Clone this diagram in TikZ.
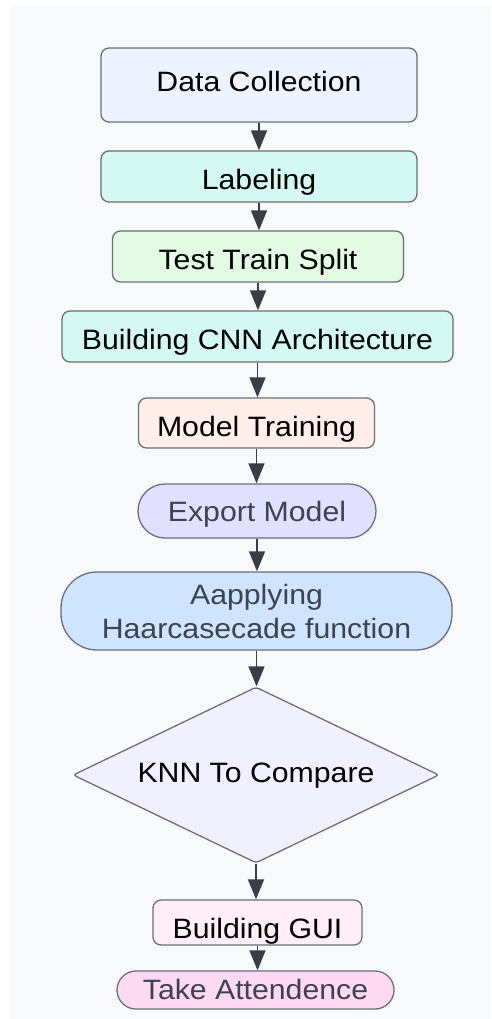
\documentclass[tikz,border=0pt]{standalone}
\usepackage{fontspec}
\setmainfont{Liberation Sans}[FakeStretch=1.08]
\usetikzlibrary{shapes.geometric,arrows.meta}

\definecolor{pagebg}{HTML}{F8F9FB}
\definecolor{edge}{HTML}{6A6F78}
\definecolor{arrowc}{HTML}{383E47}
\definecolor{greytext}{HTML}{3D4350}
\definecolor{fBlue}{HTML}{EEF4FF}
\definecolor{fMint}{HTML}{D4F8F2}
\definecolor{fGreen}{HTML}{E2FBE2}
\definecolor{fPeach}{HTML}{FFEEEA}
\definecolor{fLav}{HTML}{E2E0FF}
\definecolor{fSky}{HTML}{CFE4FF}
\definecolor{fPale}{HTML}{F1F0FF}
\definecolor{fRose}{HTML}{FFEEF8}
\definecolor{fPink}{HTML}{FFD9F2}

\tikzset{
  base/.style={draw=edge, line width=1.3pt, inner sep=0pt, align=center,
    font=\fontsize{28}{34}\selectfont, text=black},
  box/.style={base, rectangle, rounded corners=8pt},
  pill/.style={base, rectangle, text=greytext},
  decide/.style={base, diamond, rounded corners=3pt},
  % vertical placement of a single text line inside its shape
  capsup/.style={text height=20pt, text depth=6pt},
  capsmid/.style={text height=20pt, text depth=0pt},
  capsdown/.style={text height=26pt, text depth=0pt},
  flow/.style={draw=arrowc, line width=1.5pt, -{Triangle[length=20pt,width=16pt]}}
}

\begin{document}
\begin{tikzpicture}[x=1pt, y=-1pt]
  % page and panel
  \useasboundingbox (0,0) rectangle (491,1019);
  \fill[pagebg] (10,6) rectangle (491,1019);

  % process steps
  \node[box, capsup, fill=fBlue, minimum width=316pt, minimum height=74pt] (dc) at (259,85) {Data Collection};
  \node[box, capsdown, fill=fMint, minimum width=316pt, minimum height=51pt] (lab) at (259,176.5) {Labeling};
  \node[box, capsdown, fill=fGreen, minimum width=291pt, minimum height=51pt] (tts) at (258,256.5) {Test Train Split};
  \node[box, capsdown, fill=fMint, minimum width=391pt, minimum height=51pt] (cnn) at (257.5,336.5) {Building CNN Architecture};
  \node[box, capsdown, fill=fPeach, minimum width=236pt, minimum height=50pt] (mt) at (256.5,423) {Model Training};
  \node[pill, capsmid, fill=fLav, rounded corners=27pt, minimum width=238pt, minimum height=54pt] (exp) at (257,511) {Export Model};
  \node[pill, fill=fSky, rounded corners=36pt, minimum width=391pt, minimum height=78pt] (haar) at (256.5,611) {Aapplying\\Haarcasecade function};
  \node[decide, capsup, fill=fPale, shape aspect=2.08, minimum width=366pt, minimum height=176pt] (knn) at (256,775) {KNN To Compare};
  \node[box, text height=32pt, text depth=0pt, fill=fRose, minimum width=209pt, minimum height=45pt] (gui) at (257.5,922.5) {Building GUI};
  \node[pill, text height=20pt, text depth=2pt, fill=fPink, rounded corners=19pt, minimum width=277pt, minimum height=38pt] (att) at (255.5,990) {Take Attendence};

  % connectors
  \draw[flow] (dc.south) -- (dc.south |- lab.north);
  \draw[flow] (lab.south) -- (lab.south |- tts.north);
  \draw[flow] (tts.south) -- (tts.south |- cnn.north);
  \draw[flow] (cnn.south) -- (cnn.south |- mt.north);
  \draw[flow] (mt.south) -- (mt.south |- exp.north);
  \draw[flow] (exp.south) -- (exp.south |- haar.north);
  \draw[flow] (haar.south) -- (haar.south |- knn.north);
  \draw[flow] (knn.south) -- (knn.south |- gui.north);
  \draw[flow] (gui.south) -- (gui.south |- att.north);
\end{tikzpicture}
\end{document}
